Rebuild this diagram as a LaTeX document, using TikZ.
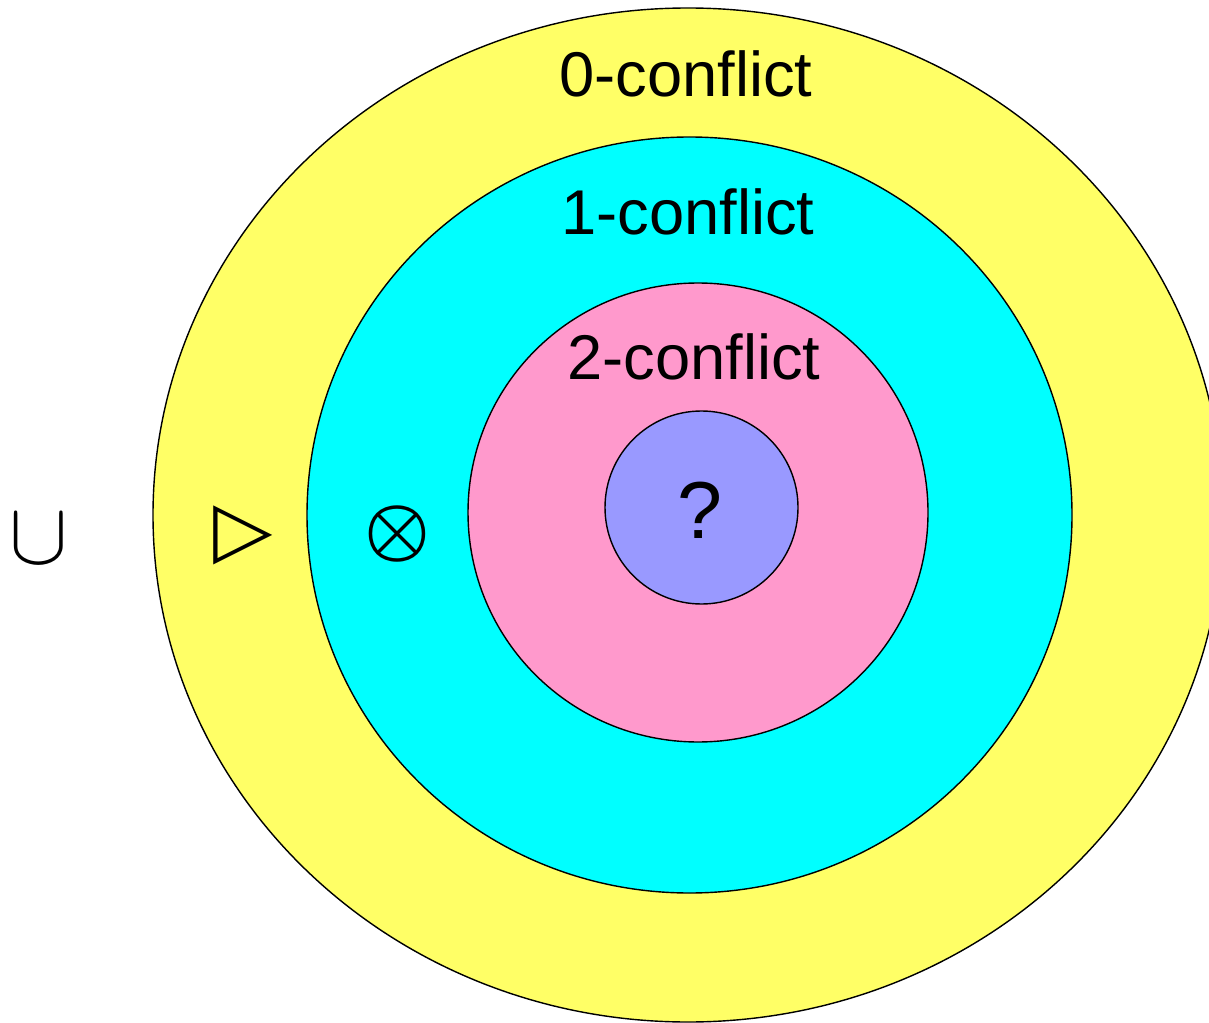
\documentclass[tikz,border=0pt]{standalone}
\usepackage{amsmath}
\usepackage{graphicx}
\usepackage{fontspec}
\setmainfont{Liberation Sans}
\newfontfamily\symfont{DejaVu Sans}
\begin{document}
\begin{tikzpicture}[x=0.02cm,y=-0.02cm,
  ring/.style={draw=black,line width=0.8pt},
  lbl/.style={font=\fontsize{36}{40}\selectfont,inner sep=0pt,anchor=base},
  sym/.style={font=\normalsize,inner sep=0pt}]
\useasboundingbox (0,0) rectangle (1209,1023);
\begin{scope}
\clip (0,0) rectangle (1209,1023);
\fill[ring,fill={rgb,255:red,255;green,255;blue,102}] (688,515) ellipse [x radius=535,y radius=507];
\fill[ring,fill={rgb,255:red,0;green,255;blue,255}] (689.5,515) ellipse [x radius=382.5,y radius=378];
\fill[ring,fill={rgb,255:red,255;green,153;blue,204}] (698,512.5) ellipse [x radius=230,y radius=229.5];
\fill[ring,fill={rgb,255:red,153;green,153;blue,255}] (701.5,507.5) ellipse [x radius=96.5,y radius=96.5];
\end{scope}
\node[lbl] (c0) at (686,97) {0-conflict};
\node[lbl] (c1) at (688,235) {1-conflict};
\node[lbl] (c2) at (694,379) {2-conflict};
\node[lbl,font=\fontsize{46}{50}\selectfont] (q) at (700,538) {?};
\node[sym] (cup) at (39,539) {\scalebox{5}{$\cup$}};
\node[sym,font=\symfont\bfseries\fontsize{44}{48}\selectfont] (tri) at (243,535) {▷};
\node[sym] (otim) at (397,534) {\scalebox{4.2}{$\boldsymbol{\otimes}$}};
\end{tikzpicture}
\end{document}
